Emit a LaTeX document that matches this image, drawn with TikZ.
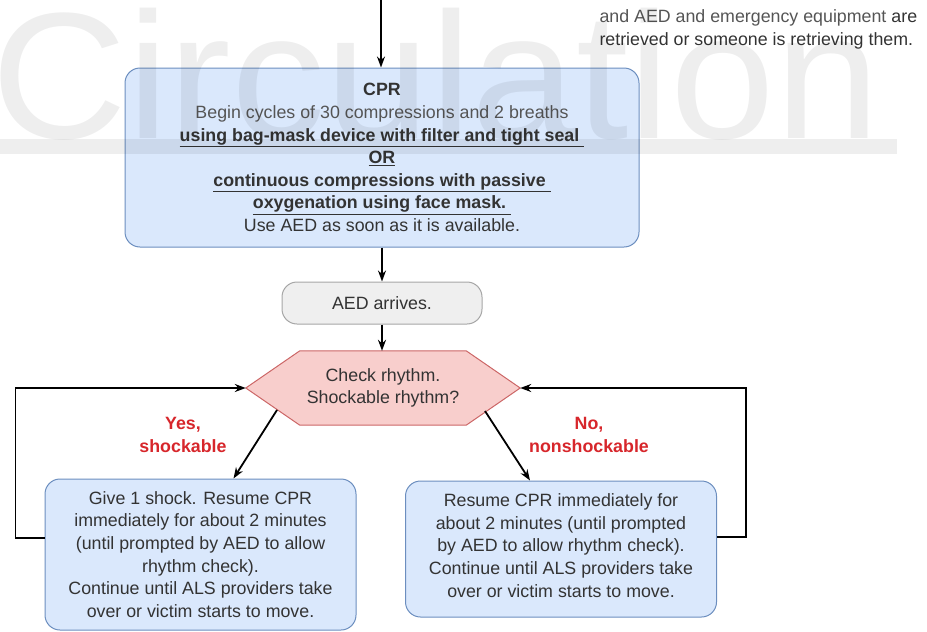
\documentclass[tikz,border=0pt]{standalone}
\usepackage{fontspec}
\setmainfont{Liberation Sans}
\usetikzlibrary{arrows.meta,backgrounds}

\definecolor{boxblue}{HTML}{DAE8FC}
\definecolor{lineblue}{HTML}{6C8EBF}
\definecolor{boxgray}{HTML}{EFEFEF}
\definecolor{linegray}{HTML}{A6A6A6}
\definecolor{hexred}{HTML}{F8CECC}
\definecolor{linered}{HTML}{CC6666}
\definecolor{answerred}{HTML}{D7262B}
\definecolor{txt}{HTML}{333333}
\definecolor{txtlight}{HTML}{555555}

\tikzset{
  cprbox/.style={draw=lineblue, fill=boxblue, line width=1pt, rounded corners=15pt,
    minimum width=514pt, minimum height=179pt, align=center, text=txt},
  aedbox/.style={draw=linegray, fill=boxgray, line width=1pt, rounded corners=15pt,
    minimum width=200pt, minimum height=42pt, align=center, text=txt},
  decision/.style={minimum width=274pt, minimum height=74pt, align=center, text=txt},
  hexline/.style={draw=linered, fill=hexred, line width=1pt},
  actbox/.style={draw=lineblue, fill=boxblue, line width=1pt, rounded corners=15pt,
    minimum width=311pt, align=center, text=txt},
  answer/.style={align=center, text=answerred, font=\fontsize{17.8}{22.6}\selectfont\bfseries},
  note/.style={align=left, text=txt},
  flow/.style={line width=1.8pt, -{Stealth[length=11pt,width=8pt]}},
  loop/.style={line width=1.8pt, -{Stealth[length=11pt,width=8pt]}, rounded corners=0pt}
}

\begin{document}
\begin{tikzpicture}[x=1pt, y=-1pt, font=\fontsize{17.8}{22.6}\selectfont]
  \useasboundingbox (0,0) rectangle (927,632);

  % top of the chart
  \coordinate (entry) at (381,0);
  \node[note, anchor=west] (retrieve) at (596,29.5)
    {\textcolor{txtlight}{and AED and emergency equipment} are\\
     retrieved or someone is retrieving them.};

  \node[cprbox] (cpr) at (382,157.5)
    {\textbf{CPR}\\
     \textcolor{txtlight}{Begin cycles of 30 compressions and 2 breaths}\\
     \textbf{\underline{using bag-mask device with filter and tight seal\ }}\\
     \textbf{\underline{OR}}\\
     \textbf{\underline{continuous compressions with passive\ }}\\
     \textbf{\underline{oxygenation using face mask.\ }}\\
     Use AED as soon as it is available.};

  \node[aedbox] (aed) at (382,303) {AED arrives.};

  \node[decision] (chk) at (383,388) {Check rhythm.\\Shockable rhythm?};
  \begin{scope}[on background layer]
    \path[hexline] (chk.west) -- ([xshift=54pt]chk.north west)
      -- ([xshift=-54pt]chk.north east) -- (chk.east)
      -- ([xshift=-54pt]chk.south east) -- ([xshift=54pt]chk.south west) -- cycle;
  \end{scope}

  % the two answers
  \node[actbox, minimum height=151pt] (shock) at (200.5,554.5)
    {Give 1 shock. Resume CPR\\
     immediately for about 2 minutes\\
     (until prompted by AED to allow\\
     rhythm check).\\
     Continue until ALS providers take\\
     over or victim starts to move.};
  \node[actbox, minimum height=136pt] (noshock) at (561,549)
    {Resume CPR immediately for\\
     about 2 minutes (until prompted\\
     by AED to allow rhythm check).\\
     Continue until ALS providers take\\
     over or victim starts to move.\\[-15.5pt]};

  \node[answer] (yes) at (183,435) {Yes,\\shockable};
  \node[answer] (no) at (589,435) {No,\\nonshockable};

  \coordinate (yesfrom) at (277,410);
  \coordinate (nofrom) at (485,411);

  % connectors
  \draw[flow] (entry) -- (entry |- cpr.north);
  \draw[flow] (cpr.south -| aed.north) -- (aed.north);
  \draw[flow] (aed.south) -- (aed.south |- chk.north);
  \draw[flow] (yesfrom) -- ([xshift=33pt]shock.north);
  \draw[flow] (nofrom) -- ([xshift=-31pt]noshock.north);
  \draw[loop] ([yshift=16.5pt]shock.west) -- ++(-29,0) |- (chk.west);
  \draw[loop] ([yshift=12pt]noshock.east) -- ++(29,0) |- (chk.east);

  % watermark
  \node[anchor=base west, inner sep=0pt, text=black, opacity=0.065, xscale=1.045,
    transform shape, font=\fontsize{180}{180}\selectfont] (mark) at (-9,138) {Circulation};
  \fill[black, opacity=0.065] (0,139) rectangle (897,154);
\end{tikzpicture}
\end{document}
